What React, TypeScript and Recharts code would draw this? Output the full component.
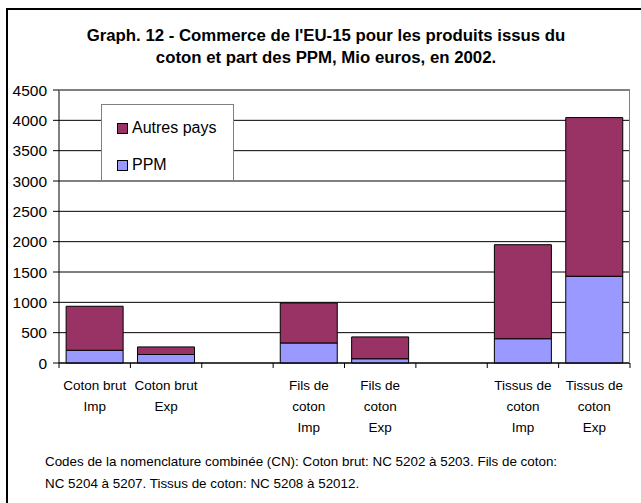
import React from "react";
import { BarChart, Bar, XAxis, YAxis, CartesianGrid, Legend } from "recharts";

const categories = [
  "Coton brut\nImp",
  "Coton brut\nExp",
  "",
  "Fils de\ncoton\nImp",
  "Fils de\ncoton\nExp",
  "",
  "Tissus de\ncoton\nImp",
  "Tissus de\ncoton\nExp",
];
const ppm = [210, 140, 0, 330, 70, 0, 400, 1430];
const autresPays = [725, 125, 0, 660, 360, 0, 1550, 2615];
const yTicks = [0, 500, 1000, 1500, 2000, 2500, 3000, 3500, 4000, 4500];
const titleLines = [
  "Graph. 12 - Commerce de l'EU-15 pour les produits issus du",
  "coton et part des PPM, Mio euros, en 2002.",
];
const footLines = [
  "Codes de la nomenclature combinée (CN): Coton brut: NC 5202 à 5203. Fils de coton:",
  "NC 5204 à 5207. Tissus de coton: NC 5208 à 52012.",
];

const data = categories.map((c, i) => ({ cat: c, ppm: ppm[i], autres: autresPays[i] }));

const FONT = "'Liberation Sans', Arial, sans-serif";
const PURPLE = "#993366";
const LAV = "#9999FF";

const XTick = (props: any) => {
  const { x, y, payload, index } = props;
  const half = typeof payload?.offset === "number" && payload.offset > 0 ? payload.offset : 571 / 16;
  const lines = String(payload.value).split("\n").filter((s) => s.length > 0);
  return (
    <g>
      <line x1={x - half} x2={x - half} y1={y} y2={y + 5} stroke="#000" />
      {index === categories.length - 1 && (
        <line x1={x + half} x2={x + half} y1={y} y2={y + 5} stroke="#000" />
      )}
      <text x={x} y={y + 27} textAnchor="middle" fontFamily={FONT} fontSize={13.5} fill="#000">
        {lines.map((l, i) => (
          <tspan key={i} x={x} dy={i === 0 ? 0 : 21}>
            {l}
          </tspan>
        ))}
      </text>
    </g>
  );
};

const LegendBox = () => (
  <div
    style={{
      width: 131,
      height: 75,
      background: "#fff",
      border: "1px solid #808080",
      fontFamily: FONT,
      fontSize: 16,
      position: "relative",
    }}
  >
    {[
      { name: "Autres pays", color: PURPLE, top: 14 },
      { name: "PPM", color: LAV, top: 51 },
    ].map((it) => (
      <div key={it.name} style={{ position: "absolute", left: 15, top: it.top, display: "flex", alignItems: "center" }}>
        <div style={{ width: 9, height: 9, background: it.color, border: "1px solid #000", marginRight: 4 }} />
        <span style={{ lineHeight: "18px" }}>{it.name}</span>
      </div>
    ))}
  </div>
);

export default function App() {
  return (
    <div
      style={{
        position: "absolute",
        left: 0,
        top: 0,
        width: 641,
        height: 503,
        overflow: "hidden",
        background: "#fff",
      }}
    >
      <div
        style={{
          position: "absolute",
          left: 6,
          top: 8,
          width: 700,
          height: 600,
          border: "2px solid #000",
          boxSizing: "border-box",
        }}
      />
      <BarChart
        width={641}
        height={503}
        data={data}
        margin={{ top: 90, right: 11, left: 0, bottom: 80 }}
        barCategoryGap="10%"
      >
        <CartesianGrid vertical={false} stroke="#000" strokeWidth={1} />
        <XAxis
          dataKey="cat"
          height={60}
          axisLine={{ stroke: "#000" }}
          tickLine={false}
          tickSize={0}
          tickMargin={0}
          interval={0}
          tick={<XTick />}
        />
        <YAxis
          width={59}
          domain={[0, 4500]}
          ticks={yTicks}
          interval={0}
          axisLine={{ stroke: "#000" }}
          tickLine={{ stroke: "#000" }}
          tickSize={6}
          tickMargin={6}
          tick={{ fill: "#000", fontFamily: FONT, fontSize: 15.5 }}
        />
        <Legend
          layout="vertical"
          align="center"
          verticalAlign="middle"
          content={<LegendBox />}
          wrapperStyle={{ left: 101, top: 104, width: 133, height: 77, position: "absolute" }}
        />
        <Bar dataKey="ppm" name="PPM" stackId="a" fill={LAV} stroke="#000" strokeWidth={1} isAnimationActive={false} />
        <Bar dataKey="autres" name="Autres pays" stackId="a" fill={PURPLE} stroke="#000" strokeWidth={1} isAnimationActive={false} />
      </BarChart>
      <div
        style={{
          position: "absolute",
          left: 59,
          top: 90,
          width: 571,
          height: 273,
          borderTop: "1px solid #808080",
          borderRight: "1px solid #808080",
          boxSizing: "border-box",
          pointerEvents: "none",
        }}
      />
      <svg width={641} height={503} style={{ position: "absolute", left: 0, top: 0, pointerEvents: "none" }}>
        {titleLines.map((t, i) => (
          <text
            key={i}
            x={326}
            y={41 + i * 22}
            textAnchor="middle"
            fontFamily={FONT}
            fontWeight="bold"
            fontSize={16.8}
            fill="#000"
          >
            {t}
          </text>
        ))}
        {footLines.map((t, i) => (
          <text key={i} x={45} y={466 + i * 22} fontFamily={FONT} fontSize={13.4} fill="#000">
            {t}
          </text>
        ))}
      </svg>
    </div>
  );
}
